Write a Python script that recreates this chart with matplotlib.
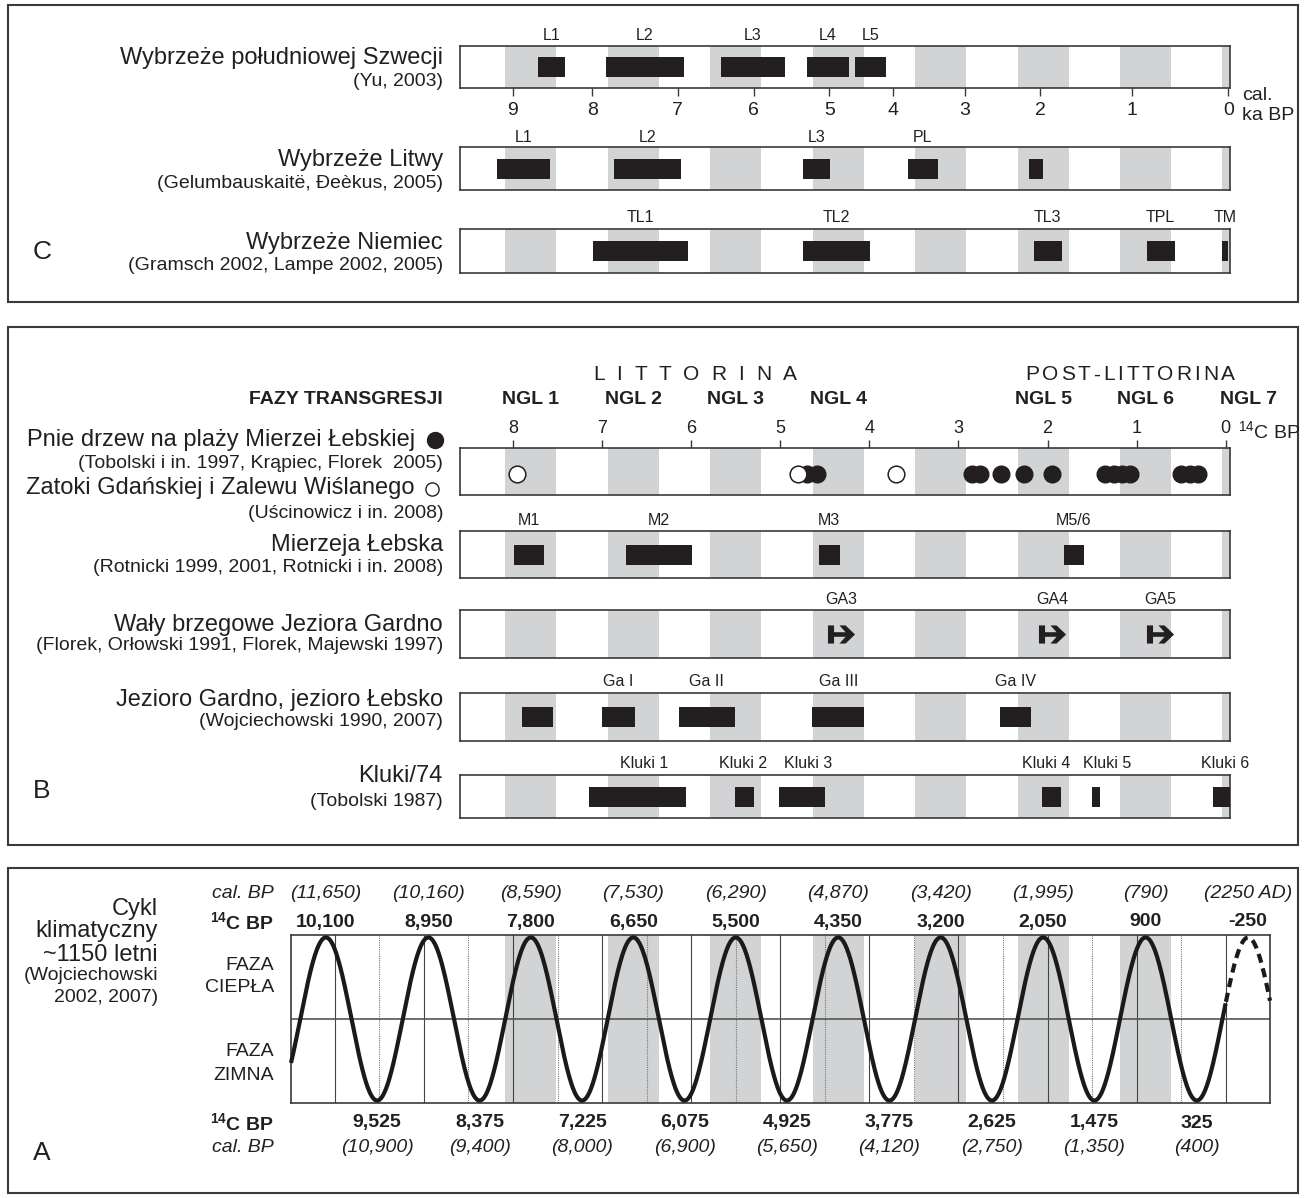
import numpy as np
import matplotlib
matplotlib.use('Agg')
import matplotlib.pyplot as plt
from matplotlib.patches import Rectangle
from matplotlib.path import Path

plt.rcParams['font.family'] = ['Liberation Sans', 'DejaVu Sans']
plt.rcParams['mathtext.fontset'] = 'custom'
plt.rcParams['mathtext.rm'] = 'Liberation Sans'
plt.rcParams['mathtext.it'] = 'Liberation Sans:italic'
plt.rcParams['mathtext.bf'] = 'Liberation Sans:bold'

# ---------------- data (ka BP) ----------------
# ~1150 yr climatic cycle, 14C ka BP
peaks_c14 = [10.10, 8.95, 7.80, 6.65, 5.50, 4.35, 3.20, 2.05, 0.90, -0.25]
peaks_c14_lab = ['10,100', '8,950', '7,800', '6,650', '5,500', '4,350', '3,200', '2,050', '900', '-250']
peaks_cal_lab = ['(11,650)', '(10,160)', '(8,590)', '(7,530)', '(6,290)', '(4,870)',
                 '(3,420)', '(1,995)', '(790)', '(2250 AD)']
troughs_c14 = [9.525, 8.375, 7.225, 6.075, 4.925, 3.775, 2.625, 1.475, 0.325]
troughs_c14_lab = ['9,525', '8,375', '7,225', '6,075', '4,925', '3,775', '2,625', '1,475', '325']
troughs_cal_lab = ['(10,900)', '(9,400)', '(8,000)', '(6,900)', '(5,650)', '(4,120)',
                   '(2,750)', '(1,350)', '(400)']

ngl_names = ['NGL 1', 'NGL 2', 'NGL 3', 'NGL 4', 'NGL 5', 'NGL 6', 'NGL 7']
ngl_c14 = [7.80, 6.65, 5.50, 4.35, 2.05, 0.90, -0.25]

# calibration used for the cal. ka BP axis of panel C
calib_cal = [9.5, 9, 8, 7, 6, 5, 4, 3, 2, 1, 0]
calib_c14 = [8.44, 8.00, 7.11, 6.15, 5.30, 4.45, 3.74, 2.93, 2.08, 1.05, -0.03]
cal_ticks = [9, 8, 7, 6, 5, 4, 3, 2, 1, 0]
c14_ticks = [8, 7, 6, 5, 4, 3, 2, 1, 0]

# panel C (cal. ka BP)
swe_names = ['L1', 'L2', 'L3', 'L4', 'L5']
swe_from = [8.68, 7.84, 6.43, 5.29, 4.60]
swe_to = [8.35, 6.92, 5.59, 4.69, 4.10]
lit_names = ['L1', 'L2', 'L3', 'PL', '']
lit_from = [9.20, 7.75, 5.35, 3.79, 2.15]
lit_to = [8.53, 6.96, 4.99, 3.37, 1.97]
ger_names = ['TL1', 'TL2', 'TL3', 'TPL', 'TM']
ger_from = [7.99, 5.35, 2.09, 0.85, 0.07]
ger_to = [6.86, 4.36, 1.77, 0.56, -0.02]

# panel B (14C ka BP)
stumps_c14 = [4.70, 4.59, 2.85, 2.76, 2.52, 2.27, 1.95, 1.36, 1.26, 1.17, 1.08, 0.50, 0.40, 0.31]
gulf_c14 = [7.96, 4.80, 3.70]
leba_names = ['M1', 'M2', 'M3', 'M5/6']
leba_from = [7.99, 6.73, 4.57, 1.82]
leba_to = [7.65, 5.99, 4.33, 1.59]
ridge_names = ['GA3', 'GA4', 'GA5']
ridge_c14 = [4.32, 1.95, 0.74]
lake_names = ['', 'Ga I', 'Ga II', 'Ga III', 'Ga IV']
lake_from = [7.90, 7.00, 6.14, 4.64, 2.53]
lake_to = [7.55, 6.63, 5.51, 4.06, 2.19]
kluki_names = ['Kluki 1', 'Kluki 2', 'Kluki 3', 'Kluki 4', 'Kluki 5', 'Kluki 6']
kluki_from = [7.15, 5.51, 5.01, 2.06, 1.50, 0.14]
kluki_to = [6.06, 5.30, 4.50, 1.85, 1.41, -0.05]
kluki_lab_c14 = [6.53, 5.42, 4.69, 2.02, 1.33, 0.01]

# ---------------- style / layout ----------------
W, H, DPI = 1305, 1198, 100
INK = '#231f20'
BAR = '#231f20'
BAND = '#d1d3d4'
EDGE = '#3a3a3a'
X0, PX_KA = 1225.8, 89.1          # pixel of 0 ka and pixels per ka (14C)
TITLE, CITE, SMALL = 17, 14, 11.5

period = np.mean(-np.diff(peaks_c14))
to_c14 = lambda cal: np.interp(cal, calib_cal[::-1], calib_c14[::-1])


def ka(px):
    return (X0 - px) / PX_KA


fig = plt.figure(figsize=(W / DPI, H / DPI), dpi=DPI)
base = fig.add_axes([0, 0, 1, 1])
base.set_xlim(0, W)
base.set_ylim(H, 0)
base.axis('off')

for y0, y1 in [(5, 302), (327, 845), (868, 1193)]:
    base.add_patch(Rectangle((8, y0), 1290, y1 - y0, fill=False, lw=1.5, ec=EDGE))


def track(y0, y1, x0=460, x1=1230, bands=peaks_c14):
    ax = fig.add_axes([x0 / W, 1 - y1 / H, (x1 - x0) / W, (y1 - y0) / H])
    ax.set_xlim(ka(x0), ka(x1))
    ax.set_ylim(0, 1)
    ax.set_xticks([])
    ax.set_yticks([])
    for s in ax.spines.values():
        s.set_color(EDGE)
        s.set_linewidth(1.2)
    for p in bands:
        ax.axvspan(p - period / 4, p + period / 4, color=BAND, lw=0, zorder=0)
    ax.box = (y0, y1)
    return ax


def label(ax, x, ypx, s, **kw):
    y0, y1 = ax.box
    kw.setdefault('fontsize', SMALL)
    ax.text(x, (y1 - ypx) / (y1 - y0), s, ha='center', va='center', color=INK,
            transform=ax.get_xaxis_transform(), clip_on=False, **kw)


def bars(ax, frm, to, names, ypx, lab_x=None):
    frm, to = np.asarray(frm), np.asarray(to)
    h = 20 / (ax.box[1] - ax.box[0])
    ax.barh(0.5, np.abs(frm - to), left=np.minimum(frm, to), height=h, color=BAR, zorder=3)
    xs = (frm + to) / 2 if lab_x is None else lab_x
    for x, n in zip(xs, names):
        if n:
            label(ax, x, ypx, n)


def title(y_main, main, y_cite, cite, x=443):
    base.text(x, y_main, main, ha='right', va='center', fontsize=TITLE, color=INK)
    base.text(x, y_cite, cite, ha='right', va='center', fontsize=CITE, color=INK)


def spaced(x0, x1, y, s, **kw):
    r = fig.canvas.get_renderer()
    ts = [base.text(0, y, c, ha='left', va='center', color=INK, **kw) for c in s]
    ws = [t.get_window_extent(r).width for t in ts]
    gap = (x1 - x0 - sum(ws)) / (len(s) - 1)
    x = x0
    for t, w in zip(ts, ws):
        t.set_x(x)
        x += w + gap


# ---------------- panel C ----------------
for txt, y in [('C', 252), ('B', 791), ('A', 1153)]:
    base.text(33, y, txt, ha='left', va='center', fontsize=19, color=INK)

ax = track(46, 88)
bars(ax, to_c14(swe_from), to_c14(swe_to), swe_names, 35)
ax.set_xticks(to_c14(cal_ticks))
ax.set_xticklabels([str(c) for c in cal_ticks])
ax.tick_params(axis='x', bottom=True, direction='out', length=6, width=1,
               color=EDGE, pad=4, labelsize=14, labelcolor=INK)
base.text(1242, 95, 'cal.', ha='left', va='center', fontsize=14, color=INK)
base.text(1242, 116, 'ka BP', ha='left', va='center', fontsize=14, color=INK)
title(58, 'Wybrzeże południowej Szwecji', 82, '(Yu, 2003)')

ax = track(147, 190)
bars(ax, to_c14(lit_from), to_c14(lit_to), lit_names, 137)
title(160, 'Wybrzeże Litwy', 183, '(Gelumbauskaitë, Đeèkus, 2005)')

ax = track(229, 273)
bars(ax, to_c14(ger_from), to_c14(ger_to), ger_names, 218)
title(243, 'Wybrzeże Niemiec', 265, '(Gramsch 2002, Lampe 2002, 2005)')

# ---------------- panel B ----------------
spaced(593, 797, 375, 'LITTORINA', fontsize=15)
spaced(1025, 1235, 375, 'POST-LITTORINA', fontsize=15)
base.text(443, 399, 'FAZY TRANSGRESJI', ha='right', va='center', fontsize=14,
          fontweight='bold', color=INK)

ax = track(448, 495)
for x, n in zip(ngl_c14, ngl_names):
    label(ax, x, 399, n, fontsize=14, fontweight='bold')
ax.plot(stumps_c14, [0.45] * len(stumps_c14), 'o', ms=12, color=BAR, zorder=3)
ax.plot(gulf_c14, [0.45] * len(gulf_c14), 'o', ms=12, mfc='white', mec=BAR, mew=1.1, zorder=4)
ax.set_xticks(c14_ticks)
ax.set_xticklabels([str(c) for c in c14_ticks])
ax.tick_params(axis='x', top=True, bottom=False, labeltop=True, labelbottom=False,
               direction='out', length=6, width=1, color=EDGE, pad=2,
               labelsize=13, labelcolor=INK)
base.text(1238, 431, r'$^{14}$C BP', ha='left', va='center', fontsize=14, color=INK)
base.text(415, 440, 'Pnie drzew na plaży Mierzei Łebskiej', ha='right', va='center',
          fontsize=TITLE, color=INK)
base.text(443, 464, '(Tobolski i in. 1997, Krąpiec, Florek  2005)', ha='right', va='center',
          fontsize=CITE, color=INK)
base.text(415, 488, 'Zatoki Gdańskiej i Zalewu Wiślanego', ha='right', va='center',
          fontsize=TITLE, color=INK)
base.text(443, 513, '(Uścinowicz i in. 2008)', ha='right', va='center', fontsize=CITE, color=INK)
base.plot([435], [440], 'o', ms=11.5, color=BAR)
base.plot([432], [489], 'o', ms=9.5, mfc='white', mec=BAR, mew=1)

ax = track(531, 578)
bars(ax, leba_from, leba_to, leba_names, 520)
title(545, 'Mierzeja Łebska', 568, '(Rotnicki 1999, 2001, Rotnicki i in. 2008)')

arrow = Path([(-1, .67), (-.55, .67), (-.55, .17), (.3, .17), (-.15, .67), (.3, .67),
              (1, 0), (.3, -.67), (-.15, -.67), (.3, -.17), (-.55, -.17), (-.55, -.67),
              (-1, -.67), (-1, .67)], closed=True)
ax = track(610, 658)
ax.plot(ridge_c14, [0.5] * len(ridge_c14), ls='none', marker=arrow, ms=19.5,
        color=BAR, mew=0, zorder=3)
for x, n in zip(ridge_c14, ridge_names):
    label(ax, x, 599, n)
title(625, 'Wały brzegowe Jeziora Gardno', 646, '(Florek, Orłowski 1991, Florek, Majewski 1997)')

ax = track(693, 741)
bars(ax, lake_from, lake_to, lake_names, 682)
title(700, 'Jezioro Gardno, jezioro Łebsko', 722, '(Wojciechowski 1990, 2007)')

ax = track(775, 818)
bars(ax, kluki_from, kluki_to, kluki_names, 763, lab_x=kluki_lab_c14)
title(776, 'Kluki/74', 802, '(Tobolski 1987)')

# ---------------- panel A ----------------
ax = track(935, 1103, x0=291, x1=1270, bands=peaks_c14[2:-1])
ax.set_ylim(-1.03, 1.03)
for v in np.arange(0, 11):
    ax.axvline(v, color='#444444', lw=0.8, zorder=1)
for v in np.arange(0.5, 10):
    ax.axvline(v, color='#777777', lw=0.8, ls=(0, (1, 1)), zorder=1)
ax.axhline(0, color='#555555', lw=1.2, zorder=1)
t = np.linspace(ka(291), ka(1270), 3000)
wave = np.cos(2 * np.pi * (t - peaks_c14[0]) / period)
ax.plot(t[t >= 0], wave[t >= 0], color='#1a1a1a', lw=3, zorder=4, clip_on=False,
        solid_capstyle='butt')
ax.plot(t[t <= 0], wave[t <= 0], color='#1a1a1a', lw=3, ls=(0, (2.2, 1.4)), zorder=4,
        clip_on=False)
for p, a, b in zip(peaks_c14, peaks_c14_lab, peaks_cal_lab):
    label(ax, p, 922, a, fontsize=14, fontweight='bold')
    label(ax, p, 893, b, fontsize=14, style='italic')
for p, a, b in zip(troughs_c14, troughs_c14_lab, troughs_cal_lab):
    label(ax, p, 1123, a, fontsize=14, fontweight='bold')
    label(ax, p, 1148, b, fontsize=14, style='italic')

for y, s, kw in [(893, 'cal. BP', dict(style='italic')),
                 (922, r'$\mathbf{{}^{14}C\ BP}$', {}),
                 (965, 'FAZA', {}), (987, 'CIEPŁA', {}),
                 (1051, 'FAZA', {}), (1075, 'ZIMNA', {}),
                 (1123, r'$\mathbf{{}^{14}C\ BP}$', {}),
                 (1148, 'cal. BP', dict(style='italic'))]:
    base.text(274, y, s, ha='right', va='center', fontsize=14, color=INK, **kw)

for y, s, fs in [(909, 'Cykl', 17), (931, 'klimatyczny', 17), (955, '~1150 letni', 17),
                 (976, '(Wojciechowski', 14), (997, '2002, 2007)', 14)]:
    base.text(158, y, s, ha='right', va='center', fontsize=fs, color=INK)

fig.savefig('out.png', dpi=DPI)
